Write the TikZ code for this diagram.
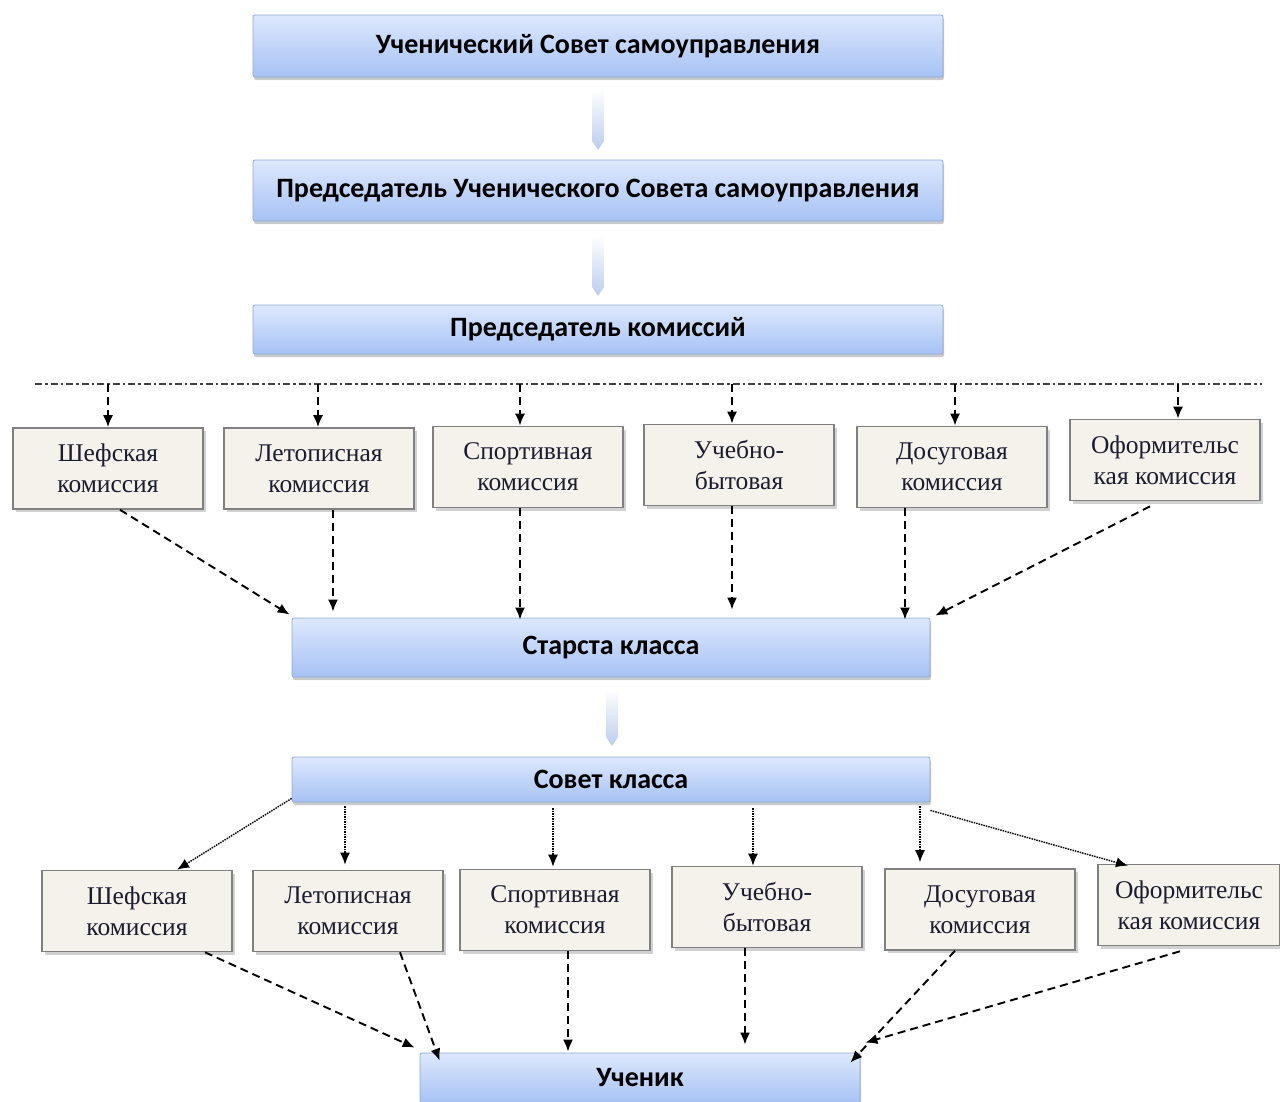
\documentclass[tikz,border=0pt]{standalone}
\usepackage{fontspec}
\setmainfont{Liberation Serif}
\newfontfamily\boxfont{Carlito}
\usetikzlibrary{arrows.meta,shadows,calc}
\definecolor{btop}{HTML}{DDE8FD}
\definecolor{bbot}{HTML}{A6C2F4}
\definecolor{bline}{HTML}{8FA9D6}
\definecolor{cfill}{HTML}{F4F2EA}
\definecolor{cline}{HTML}{808080}
\definecolor{arrblue}{HTML}{BCCDEE}
\definecolor{ctext}{HTML}{1C1C30}
\tikzset{
  bluebox/.style={draw=bline, line width=0.8pt, top color=btop, bottom color=bbot,
    rounded corners=2pt, font=\boxfont\bfseries\fontsize{28}{30}\selectfont,
    drop shadow={shadow xshift=1pt, shadow yshift=-3pt, opacity=0.35, fill=black!60},
    inner sep=0pt},
  combox/.style={draw=cline, line width=1.6pt, fill=cfill, minimum width=190pt, minimum height=81pt,
    align=center, font=\fontsize{25.5}{31}\selectfont, text=ctext, inner sep=0pt,
    drop shadow={shadow xshift=3pt, shadow yshift=-3pt, opacity=0.3, fill=black!60}},
  tip/.style={-{Latex[length=12pt,width=10pt]}},
  dasharr/.style={tip, line width=1.9pt, dash pattern=on 8pt off 5pt},
  dotarr/.style={tip, line width=1.4pt, dash pattern=on 1.5pt off 1pt},
}
\newcommand{\bigarrow}[3]{% x, y0, y1
  \shade[top color=white, bottom color=arrblue]
    (#1-6,#2) -- (#1+6,#2) -- (#1+6,#3-9) -- (#1,#3) -- (#1-6,#3-9) -- cycle;
}
\begin{document}
\begin{tikzpicture}[x=1pt,y=-1pt]
\useasboundingbox (0,0) rectangle (1280,1101);
% top boxes
\node[bluebox, minimum width=690pt, minimum height=62pt] (b1) at (598,46) {Ученический Совет самоуправления};
\node[bluebox, minimum width=690pt, minimum height=61pt] (b2) at (598,190.5) {Председатель Ученического Совета самоуправления};
\node[bluebox, minimum width=690pt, minimum height=49pt] (b3) at (598,329.5) {Председатель комиссий};
\bigarrow{598}{88}{150}
\bigarrow{598}{235}{296}
% dash-dot line
\coordinate (L) at (35,384);
\coordinate (R) at (1262,384);
\draw[line width=1.8pt, black!75, dash pattern=on 7pt off 3pt on 2.5pt off 3pt] (L) -- (R);
% row 1 commissions
\node[combox] (c1) at (108,468.5) {Шефская\\комиссия};
\node[combox] (c2) at (319,468.5) {Летописная\\комиссия};
\node[combox] (c3) at (528,467) {Спортивная\\комиссия};
\node[combox] (c4) at (739,465) {Учебно-\\бытовая};
\node[combox] (c5) at (952,467) {Досуговая\\комиссия};
\node[combox] (c6) at (1165,460) {Оформительс\\кая комиссия};
\foreach \i/\x in {1/108,2/318,3/520,4/732,5/955,6/1178}{
  \coordinate (d\i) at (\x,384);
  \draw[dasharr] (d\i) -- (d\i |- c\i.north);
}
% starosta
\node[bluebox, minimum width=638pt, minimum height=59pt] (st) at (611,647.5) {Старста класса};
\coordinate (a1) at ($(c1.south)+(12,0)$);
\coordinate (a2) at ($(c2.south)+(14,0)$);
\coordinate (a3) at ($(c3.south)+(-8,0)$);
\coordinate (a4) at ($(c4.south)+(-7,0)$);
\coordinate (a5) at ($(c5.south)+(-47,0)$);
\coordinate (a6) at ($(c6.south)+(-15,5)$);
\draw[dasharr] (a1) -- ([xshift=-2pt,yshift=3pt]st.north west);
\draw[dasharr] (a2) -- ($(a2 |- st.north)+(0,-6)$);
\draw[dasharr] (a3) -- ($(a3 |- st.north)+(0,2)$);
\draw[dasharr] (a4) -- ($(a4 |- st.north)+(0,-8)$);
\draw[dasharr] (a5) -- ($(a5 |- st.north)+(0,2)$);
\draw[dasharr] (a6) -- ([xshift=5pt,yshift=2pt]st.north east);
\bigarrow{612}{689}{746}
% sovet
\node[bluebox, minimum width=638pt, minimum height=45pt] (sv) at (611,779.5) {Совет класса};
% row 2 commissions
\node[combox] (e1) at (137,911) {Шефская\\комиссия};
\node[combox] (e2) at (348,911) {Летописная\\комиссия};
\node[combox] (e3) at (555,910) {Спортивная\\комиссия};
\node[combox] (e4) at (767,907) {Учебно-\\бытовая};
\node[combox] (e5) at (980,909.5) {Досуговая\\комиссия};
\node[combox, minimum width=182pt] (e6) at (1189,905) {Оформительс\\кая комиссия};
\coordinate (s2) at (345,806);
\coordinate (s3) at (553,808);
\coordinate (s4) at (753,808);
\coordinate (s5) at (920,806);
\draw[dotarr] ([yshift=4pt]sv.south west) -- ([xshift=40pt]e1.north);
\draw[dotarr] (s2) -- ($(s2 |- e2.north)+(0,-5)$);
\draw[dotarr] (s3) -- ($(s3 |- e3.north)+(0,-2)$);
\draw[dotarr] (s4) -- ($(s4 |- e4.north)+(0,0)$);
\draw[dotarr] (s5) -- ($(s5 |- e5.north)+(0,-6)$);
\draw[dotarr] ([yshift=-8pt]sv.south east) -- ([xshift=-61pt,yshift=-2pt]e6.north);
% uchenik
\node[bluebox, minimum width=440pt, minimum height=50pt] (uc) at (640,1078) {Ученик};
\coordinate (u1) at ($(e1.south)+(68,0)$);
\coordinate (u2) at ($(e2.south)+(52,0)$);
\coordinate (u3) at ($(e3.south)+(13,0)$);
\coordinate (u4) at ($(e4.south)+(-22,0)$);
\coordinate (u5) at ($(e5.south)+(-25,0)$);
\coordinate (u6) at ($(e6.south)+(-9,5)$);
\draw[dasharr] (u1) -- ([xshift=-5pt,yshift=5pt]uc.north west);
\draw[dasharr] (u2) -- ([xshift=20pt,yshift=-8pt]uc.north west);
\draw[dasharr] (u3) -- ($(u3 |- uc.north)+(0,-1)$);
\draw[dasharr] (u4) -- ($(u4 |- uc.north)+(0,-8)$);
\draw[dasharr] (u5) -- ([xshift=-10pt,yshift=-10pt]uc.north east);
\draw[dasharr] (u6) -- ([xshift=5pt,yshift=10pt]uc.north east);
\end{tikzpicture}
\end{document}
